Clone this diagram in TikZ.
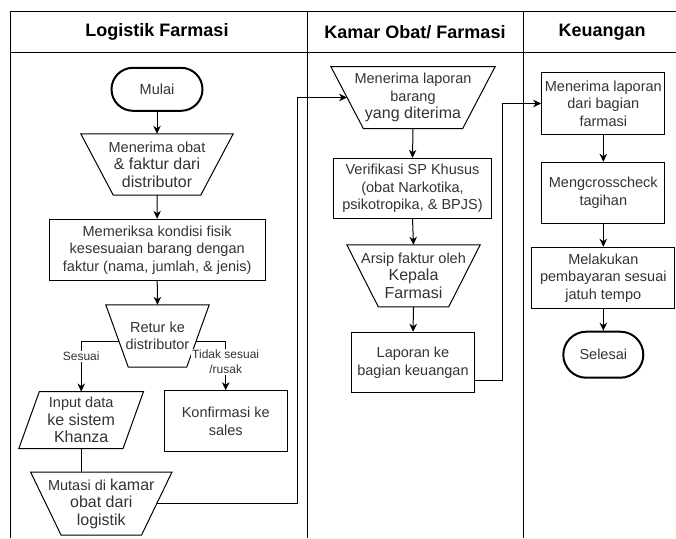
\documentclass[tikz,border=0pt]{standalone}
\usepackage{fontspec}
\setmainfont{Liberation Sans}
\usetikzlibrary{arrows.meta,calc}

\definecolor{txt}{HTML}{333333}
\newcommand\txtbody{\fontsize{14.5}{17.5}\selectfont}
\newcommand\txtbig{\fontsize{16}{19.5}\selectfont}
\newcommand\txtlabel{\fontsize{12}{15}\selectfont}
\newcommand\txthead{\fontsize{18}{21}\selectfont\bfseries}

\begin{document}
\begin{tikzpicture}[x=1pt,y=-1pt,
  lane/.style={draw=black, line width=1pt},
  shapeline/.style={draw=black, line width=1pt, line join=miter},
  proc/.style={draw=black, line width=1pt, rectangle, align=center, inner sep=0pt, text=txt, font=\txtbody},
  textonly/.style={rectangle, align=center, inner sep=0pt, text=txt, font=\txtbody},
  term/.style={draw=black, line width=2pt, rectangle, align=center, inner sep=0pt, text=txt, font=\txtbody},
  flow/.style={draw=black, line width=1pt, -{Stealth[length=8pt,width=7.5pt,inset=2.5pt]}},
  plain/.style={draw=black, line width=1pt},
  branchlabel/.style={fill=white, inner sep=1pt, text=txt, font=\txtlabel, align=center},
  header/.style={font=\txthead, text=black}
]
\useasboundingbox (0,0) rectangle (676,538);

% swimlanes
\draw[lane] (10,538) -- (10,11) -- (676,11);
\draw[lane] (10,52) -- (676,52);
\draw[lane] (307,11) -- (307,538);
\draw[lane] (523,11) -- (523,538);
\node[header] (hlog) at (157,32) {Logistik Farmasi};
\node[header] (hkam) at (415,32) {Kamar Obat/ Farmasi};
\node[header] (hkeu) at (602,32) {Keuangan};

% Logistik Farmasi
\node[term, minimum width=91pt, minimum height=43pt, rounded corners=21.5pt] (mulai) at (157,89.3) {Mulai};
\node[textonly, minimum width=152pt, minimum height=61pt] (t1) at (157,164.5) {Menerima obat\\\txtbig \& faktur dari\\\txtbig distributor};
\node[proc, minimum width=215.7pt, minimum height=61.4pt] (periksa) at (157.2,250) {Memeriksa kondisi fisik\\kesesuaian barang dengan\\faktur (nama, jumlah, \& jenis)};
\node[textonly, minimum width=103pt, minimum height=62pt] (retur) at (157.5,336) {Retur ke\\distributor};
\node[textonly, minimum width=124.3pt, minimum height=56.6pt] (input) at (81.2,420) {Input data\\\txtbig ke sistem\\\txtbig Khanza};
\node[proc, minimum width=123.3pt, minimum height=61pt] (konf) at (225.7,421.2) {Konfirmasi ke\\sales};
\node[textonly, minimum width=141pt, minimum height=62.7pt] (mutasi) at (101.3,503.6) {Mutasi di {\txtbig kamar}\\\txtbig obat dari\\\txtbig logistik};

% Kamar Obat / Farmasi
\node[textonly, minimum width=164pt, minimum height=61.6pt] (lap1) at (413,97.5) {Menerima laporan\\barang\\\txtbig yang diterima};
\node[proc, minimum width=158.4pt, minimum height=60pt] (verif) at (412.5,188.3) {Verifikasi SP Khusus\\(obat Narkotika,\\psikotropika, \& BPJS)};
\node[textonly, minimum width=133pt, minimum height=61.7pt] (arsip) at (413.5,275.8) {Arsip faktur oleh\\\txtbig Kepala\\\txtbig Farmasi};
\node[proc, minimum width=122.6pt, minimum height=60.4pt] (laporan) at (413,362.5) {Laporan ke\\bagian keuangan};

% Keuangan
\node[proc, minimum width=123.3pt, minimum height=61.6pt] (terima) at (603.3,103.5) {Menerima laporan\\dari bagian\\farmasi};
\node[proc, minimum width=123.3pt, minimum height=61pt] (cross) at (603.3,192.8) {Mengcrosscheck\\tagihan};
\node[proc, minimum width=143.3pt, minimum height=61pt] (bayar) at (603.3,277.8) {Melakukan\\pembayaran sesuai\\jatuh tempo};
\node[term, minimum width=80pt, minimum height=46pt, rounded corners=23pt] (selesai) at (603.3,354.7) {Selesai};

% manual-operation outlines (wide top, narrow bottom)
\draw[shapeline] (t1.north west) -- (t1.north east) -- ([xshift=-32.5pt]t1.south east) -- ([xshift=32.5pt]t1.south west) -- cycle;
\draw[shapeline] (retur.north west) -- (retur.north east) -- ([xshift=-22.5pt]retur.south east) -- ([xshift=22.5pt]retur.south west) -- cycle;
\draw[shapeline] (mutasi.north west) -- (mutasi.north east) -- ([xshift=-30.5pt]mutasi.south east) -- ([xshift=30.5pt]mutasi.south west) -- cycle;
\draw[shapeline] (lap1.north west) -- (lap1.north east) -- ([xshift=-32.5pt]lap1.south east) -- ([xshift=32.5pt]lap1.south west) -- cycle;
\draw[shapeline] (arsip.north west) -- (arsip.north east) -- ([xshift=-31.5pt]arsip.south east) -- ([xshift=31.5pt]arsip.south west) -- cycle;
% data (parallelogram) outline
\draw[shapeline] ([xshift=20.5pt]input.north west) -- (input.north east) -- ([xshift=-20.5pt]input.south east) -- (input.south west) -- cycle;

% points on slanted sides and bend columns
\coordinate (retL) at ([xshift=13pt,yshift=-5pt]retur.west);
\coordinate (retR) at ([xshift=-13pt,yshift=-5pt]retur.east);
\coordinate (mutR) at ([xshift=-15.25pt]mutasi.east);
\coordinate (lap1L) at ([xshift=16.25pt]lap1.west);
\coordinate (lapR) at ([yshift=-18pt]laporan.east);
\coordinate (bendA) at (297.5,0);
\coordinate (bendB) at (502.5,0);

% connectors
\draw[flow] (mulai.south) -- (t1.north);
\draw[flow] (t1.south) -- (periksa.north);
\draw[flow] (periksa.south) -- (retur.north);
\draw[flow] (retL) -| (input.north) node[branchlabel, pos=0.65] {Sesuai};
\draw[flow] (retR) -| (konf.north) node[branchlabel, pos=0.71] {Tidak sesuai\\/rusak};
\draw[plain] (input.south) -- (input.south |- mutasi.north);
\draw[flow] (mutR) -- (mutR -| bendA) |- (lap1L);
\draw[flow] (lap1.south) -- (verif.north);
\draw[flow] (verif.south) -- (arsip.north);
\draw[flow] (arsip.south) -- (laporan.north);
\draw[flow] (lapR) -- (lapR -| bendB) |- (terima.west);
\draw[flow] (terima.south) -- (cross.north);
\draw[flow] (cross.south) -- (bayar.north);
\draw[flow] (bayar.south) -- (selesai.north);
\end{tikzpicture}
\end{document}
